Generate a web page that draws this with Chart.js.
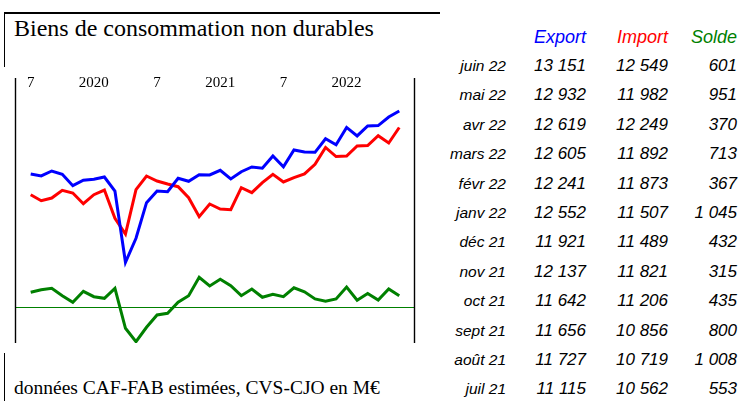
<!DOCTYPE html>
<html lang="fr">
<head>
<meta charset="UTF-8" />
<title>Biens de consommation non durables</title>
<script src="https://cdn.jsdelivr.net/npm/chart.js@4.4.1/dist/chart.umd.min.js"></script>
<style>
 * { margin: 0; padding: 0; box-sizing: border-box; }
 body { width: 747px; height: 401px; background: #fff; position: relative; overflow: hidden; }
 .line { position: absolute; background: #000; }
 .serif { position: absolute; font-family: 'Liberation Serif', 'Times New Roman', serif; color: #000; white-space: nowrap; }
 #title { left: 14px; top: 13.5px; font-size: 24px; line-height: 28px; }
 #note { left: 14px; top: 377px; font-size: 19.5px; line-height: 22px; }
 #box { position: absolute; left: 0; top: 0; width: 420px; height: 360px; }
 .cell { position: absolute; font-family: 'Liberation Sans', Arial, sans-serif; font-style: italic; color: #000; text-align: right; white-space: nowrap; line-height: 20px; }
</style>
</head>
<body>
 <div class="line" style="left:4px; top:12px; width:436px; height:1.5px"></div>
 <div class="line" style="left:3.5px; top:12px; width:1.5px; height:55px"></div>
 <div class="line" style="left:3.5px; top:353px; width:1.5px; height:48px"></div>
 <div id="title" class="serif">Biens de consommation non durables</div>
 <div id="note" class="serif">données CAF-FAB estimées, CVS-CJO en M€</div>
 <div id="box"><canvas id="chart" width="420" height="360"></canvas></div>
 <div id="table"></div>

<script>
 // mois, de juillet 2019 à juin 2022
 const months = [
  'juil 19', 'août 19', 'sept 19', 'oct 19', 'nov 19', 'déc 19',
  'janv 20', 'févr 20', 'mars 20', 'avr 20', 'mai 20', 'juin 20',
  'juil 20', 'août 20', 'sept 20', 'oct 20', 'nov 20', 'déc 20',
  'janv 21', 'févr 21', 'mars 21', 'avr 21', 'mai 21', 'juin 21',
  'juil 21', 'août 21', 'sept 21', 'oct 21', 'nov 21', 'déc 21',
  'janv 22', 'févr 22', 'mars 22', 'avr 22', 'mai 22', 'juin 22'
 ]

 const exportValues = [
  10851, 10779, 10961, 10841, 10424, 10622, 10658, 10742, 10231, 7629, 8505, 9804,
  10231, 10205, 10695, 10585, 10826, 10815, 10987, 10669, 10935, 11107, 11060, 11509,
  11115, 11727, 11656, 11642, 12137, 11921, 12552, 12241, 12605, 12619, 12932, 13151
 ]
 const importValues = [
  10096, 9877, 9975, 10257, 10158, 9767, 10096, 10267, 9235, 8661, 10278, 10778,
  10596, 10486, 10388, 9986, 9293, 9756, 9574, 9548, 10351, 10169, 10534, 10841,
  10562, 10719, 10856, 11206, 11821, 11489, 11507, 11873, 11892, 12249, 11982, 12549
 ]
 const soldeValues = [
  776, 910, 982, 600, 259, 827, 548, 465, 982, -1086, -1778, -1034,
  -398, -310, 259, 600, 1551, 1101, 1448, 1117, 600, 946, 517, 672,
  553, 1008, 800, 435, 315, 432, 1045, 367, 713, 370, 951, 601
 ]

 const tickAt = [0, 6, 12, 18, 24, 30]
 const tickLabels = ['7', '2020', '7', '2021', '7', '2022']

 const colors = { export: '#0000ff', import: '#ff0000', solde: '#008000' }

 const toPoints = arr => arr.map((v, i) => ({ x: i, y: v }))

 // cadre noir + ligne du zéro du solde
 const frame = {
  id: 'frame',
  beforeDatasetsDraw(chart) {
   const { ctx, chartArea: a, scales } = chart
   const y0 = Math.round(scales.y1.getPixelForValue(0)) + 0.5
   ctx.save()
   ctx.strokeStyle = colors.solde
   ctx.lineWidth = 1.2
   ctx.beginPath()
   ctx.moveTo(a.left, y0)
   ctx.lineTo(a.right + 1, y0)
   ctx.stroke()
   ctx.strokeStyle = '#000'
   ctx.lineWidth = 1.4
   ctx.beginPath()
   ctx.moveTo(a.left + 0.5, a.top)
   ctx.lineTo(a.left + 0.5, a.bottom)
   ctx.moveTo(a.right + 0.5, a.top)
   ctx.lineTo(a.right + 0.5, a.bottom)
   ctx.stroke()
   ctx.restore()
  }
 }

 new Chart(document.getElementById('chart'), {
  type: 'line',
  plugins: [frame],
  data: {
   datasets: [
    { label: 'Export', data: toPoints(exportValues), borderColor: colors.export, yAxisID: 'y' },
    { label: 'Import', data: toPoints(importValues), borderColor: colors.import, yAxisID: 'y' },
    { label: 'Solde', data: toPoints(soldeValues), borderColor: colors.solde, yAxisID: 'y1' }
   ]
  },
  options: {
   responsive: false,
   animation: false,
   layout: { padding: { top: 78, left: 15, right: 6, bottom: 17 } },
   elements: {
    point: { radius: 0 },
    line: { borderWidth: 3, tension: 0, fill: false }
   },
   plugins: { legend: { display: false }, tooltip: { enabled: false } },
   scales: {
    x: {
     type: 'linear',
     position: 'top',
     min: -1.49,
     max: 36.4,
     grid: { display: false, drawTicks: false },
     border: { display: false },
     afterBuildTicks: scale => {
      scale.ticks = tickAt.map(v => ({ value: v }))
     },
     ticks: {
      mirror: true,
      padding: 0,
      maxRotation: 0,
      autoSkip: false,
      color: '#000',
      font: { family: "'Liberation Serif', serif", size: 15, lineHeight: 0.7 },
      callback: v => tickLabels[tickAt.indexOf(v)]
     }
    },
    y: { display: false, min: 4683, max: 14355 },
    y1: { display: false, min: -1846, max: 11855 }
   }
  }
 })

 // tableau des 12 derniers mois
 const fmt = v => String(v).replace(/\B(?=(\d{3})+(?!\d))/g, ' ')
 const table = document.getElementById('table')
 const addCell = (text, right, top, size, color) => {
  const d = document.createElement('div')
  d.className = 'cell'
  d.textContent = text
  d.style.right = 747 - right + 'px'
  d.style.top = top + 'px'
  d.style.fontSize = size + 'px'
  d.style.color = color
  table.appendChild(d)
 }
 addCell('Export', 586, 27, 18, colors.export)
 addCell('Import', 668, 27, 18, colors.import)
 addCell('Solde', 737, 27, 18, colors.solde)
 for (let r = 0; r < 12; r++) {
  const i = months.length - 1 - r
  const top = 56 + r * 29.4
  addCell(months[i], 506, top, 15.5, '#000')
  addCell(fmt(exportValues[i]), 586, top, 17, '#000')
  addCell(fmt(importValues[i]), 668, top, 17, '#000')
  addCell(fmt(soldeValues[i]), 737, top, 17, '#000')
 }
</script>
</body>
</html>
